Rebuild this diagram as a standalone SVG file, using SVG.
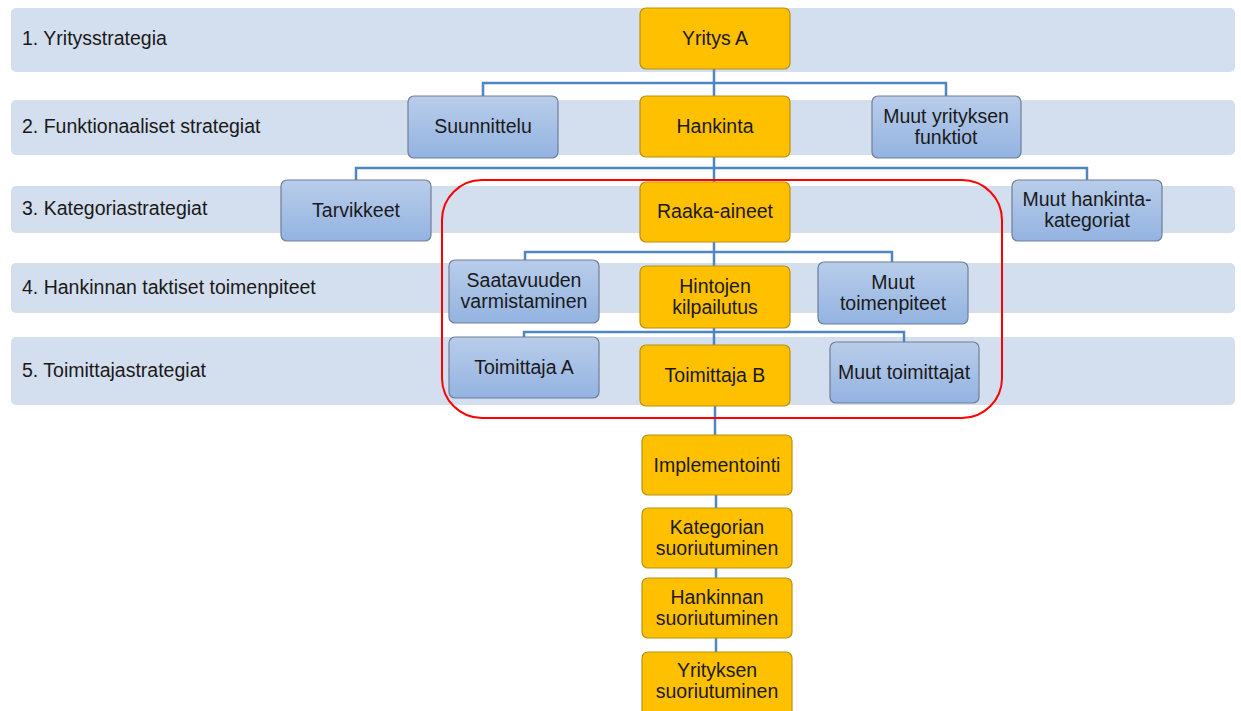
<svg xmlns="http://www.w3.org/2000/svg" width="1241" height="711" viewBox="0 0 1241 711">
  <defs>
    <linearGradient id="blueFill" x1="0" y1="0" x2="0" y2="1">
      <stop offset="0" stop-color="#B9CDEA"/>
      <stop offset="1" stop-color="#93B3E1"/>
    </linearGradient>
    <style>
      .band { fill: #D3DEEE; }
      .bandLabel { font-family: "Liberation Sans", Arial, sans-serif; font-size: 19.5px; fill: #1a1a1a; }
      .orange { fill: #FFC000; stroke: #B8920E; stroke-width: 1.2; }
      .blue { fill: url(#blueFill); stroke: #6F7F96; stroke-width: 1.2; }
      .label { font-family: "Liberation Sans", Arial, sans-serif; font-size: 19.5px; fill: #1a1a1a; text-anchor: middle; }
      .conn { fill: none; stroke: #4F85C0; stroke-width: 2.5; }
      .frame { fill: none; stroke: #FF0000; stroke-width: 2; }
    </style>
  </defs>

  <rect width="1241" height="711" fill="#FFFFFF"/>

  <!-- strategy level bands -->
  <g id="levels">
    <rect class="band" x="11" y="8" width="1224" height="64" rx="5"/>
    <rect class="band" x="11" y="100" width="1224" height="55" rx="5"/>
    <rect class="band" x="11" y="186" width="1224" height="47" rx="5"/>
    <rect class="band" x="11" y="263" width="1224" height="50" rx="5"/>
    <rect class="band" x="11" y="337" width="1224" height="68" rx="5"/>
    <text class="bandLabel" x="22" y="45">1. Yritysstrategia</text>
    <text class="bandLabel" x="22" y="133">2. Funktionaaliset strategiat</text>
    <text class="bandLabel" x="22" y="215">3. Kategoriastrategiat</text>
    <text class="bandLabel" x="22" y="294">4. Hankinnan taktiset toimenpiteet</text>
    <text class="bandLabel" x="22" y="377">5. Toimittajastrategiat</text>
  </g>

  <!-- connectors -->
  <g id="connectors">
    <path class="conn" d="M714 69 V96 M483 96 V83 H946 V96"/>
    <path class="conn" d="M714 157 V182 M356 180 V168 H1087 V180"/>
    <path class="conn" d="M714 242 V266 M525 260 V252 H892 V262"/>
    <path class="conn" d="M714 328 V345 M524 337 V332 H904 V342"/>
    <path class="conn" d="M715 406 V435 M716 495 V508 M716 568 V578 M716 638 V652"/>
  </g>

  <!-- highlighted procurement scope -->
  <rect id="scope" class="frame" x="442" y="180" width="560" height="238" rx="40"/>

  <g id="yritysA">
    <rect class="orange" x="640" y="8" width="150" height="61" rx="6"/>
    <text class="label" x="715" y="45">Yritys A</text>
  </g>
  <g id="suunnittelu">
    <rect class="blue" x="408" y="96" width="150" height="62" rx="6"/>
    <text class="label" x="483" y="133">Suunnittelu</text>
  </g>
  <g id="hankinta">
    <rect class="orange" x="640" y="96" width="150" height="61" rx="6"/>
    <text class="label" x="715" y="133">Hankinta</text>
  </g>
  <g id="muutFunktiot">
    <rect class="blue" x="872" y="96" width="149" height="62" rx="6"/>
    <text class="label" x="946" y="123">Muut yrityksen</text>
    <text class="label" x="946" y="144">funktiot</text>
  </g>

  <g id="tarvikkeet">
    <rect class="blue" x="281" y="180" width="150" height="61" rx="6"/>
    <text class="label" x="356" y="217">Tarvikkeet</text>
  </g>
  <g id="raakaAineet">
    <rect class="orange" x="640" y="182" width="150" height="60" rx="6"/>
    <text class="label" x="715" y="218">Raaka-aineet</text>
  </g>
  <g id="muutKategoriat">
    <rect class="blue" x="1012" y="180" width="150" height="61" rx="6"/>
    <text class="label" x="1087" y="206">Muut hankinta-</text>
    <text class="label" x="1087" y="227">kategoriat</text>
  </g>

  <g id="saatavuus">
    <rect class="blue" x="449" y="260" width="150" height="63" rx="6"/>
    <text class="label" x="524" y="287">Saatavuuden</text>
    <text class="label" x="524" y="308">varmistaminen</text>
  </g>
  <g id="hintojenKilpailutus">
    <rect class="orange" x="640" y="266" width="150" height="62" rx="6"/>
    <text class="label" x="715" y="293">Hintojen</text>
    <text class="label" x="715" y="314">kilpailutus</text>
  </g>
  <g id="muutToimenpiteet">
    <rect class="blue" x="818" y="262" width="150" height="62" rx="6"/>
    <text class="label" x="893" y="289">Muut</text>
    <text class="label" x="893" y="310">toimenpiteet</text>
  </g>

  <g id="toimittajaA">
    <rect class="blue" x="449" y="337" width="150" height="61" rx="6"/>
    <text class="label" x="524" y="374">Toimittaja A</text>
  </g>
  <g id="toimittajaB">
    <rect class="orange" x="640" y="345" width="150" height="61" rx="6"/>
    <text class="label" x="715" y="382">Toimittaja B</text>
  </g>
  <g id="muutToimittajat">
    <rect class="blue" x="830" y="342" width="149" height="61" rx="6"/>
    <text class="label" x="904" y="379">Muut toimittajat</text>
  </g>

  <g id="implementointi">
    <rect class="orange" x="642" y="435" width="150" height="60" rx="6"/>
    <text class="label" x="717" y="472">Implementointi</text>
  </g>
  <g id="kategorianSuoriutuminen">
    <rect class="orange" x="642" y="508" width="150" height="60" rx="6"/>
    <text class="label" x="717" y="534">Kategorian</text>
    <text class="label" x="717" y="555">suoriutuminen</text>
  </g>
  <g id="hankinnanSuoriutuminen">
    <rect class="orange" x="642" y="578" width="150" height="60" rx="6"/>
    <text class="label" x="717" y="604">Hankinnan</text>
    <text class="label" x="717" y="625">suoriutuminen</text>
  </g>
  <g id="yrityksenSuoriutuminen">
    <rect class="orange" x="642" y="652" width="150" height="64" rx="6"/>
    <text class="label" x="717" y="677">Yrityksen</text>
    <text class="label" x="717" y="698">suoriutuminen</text>
  </g>
</svg>
